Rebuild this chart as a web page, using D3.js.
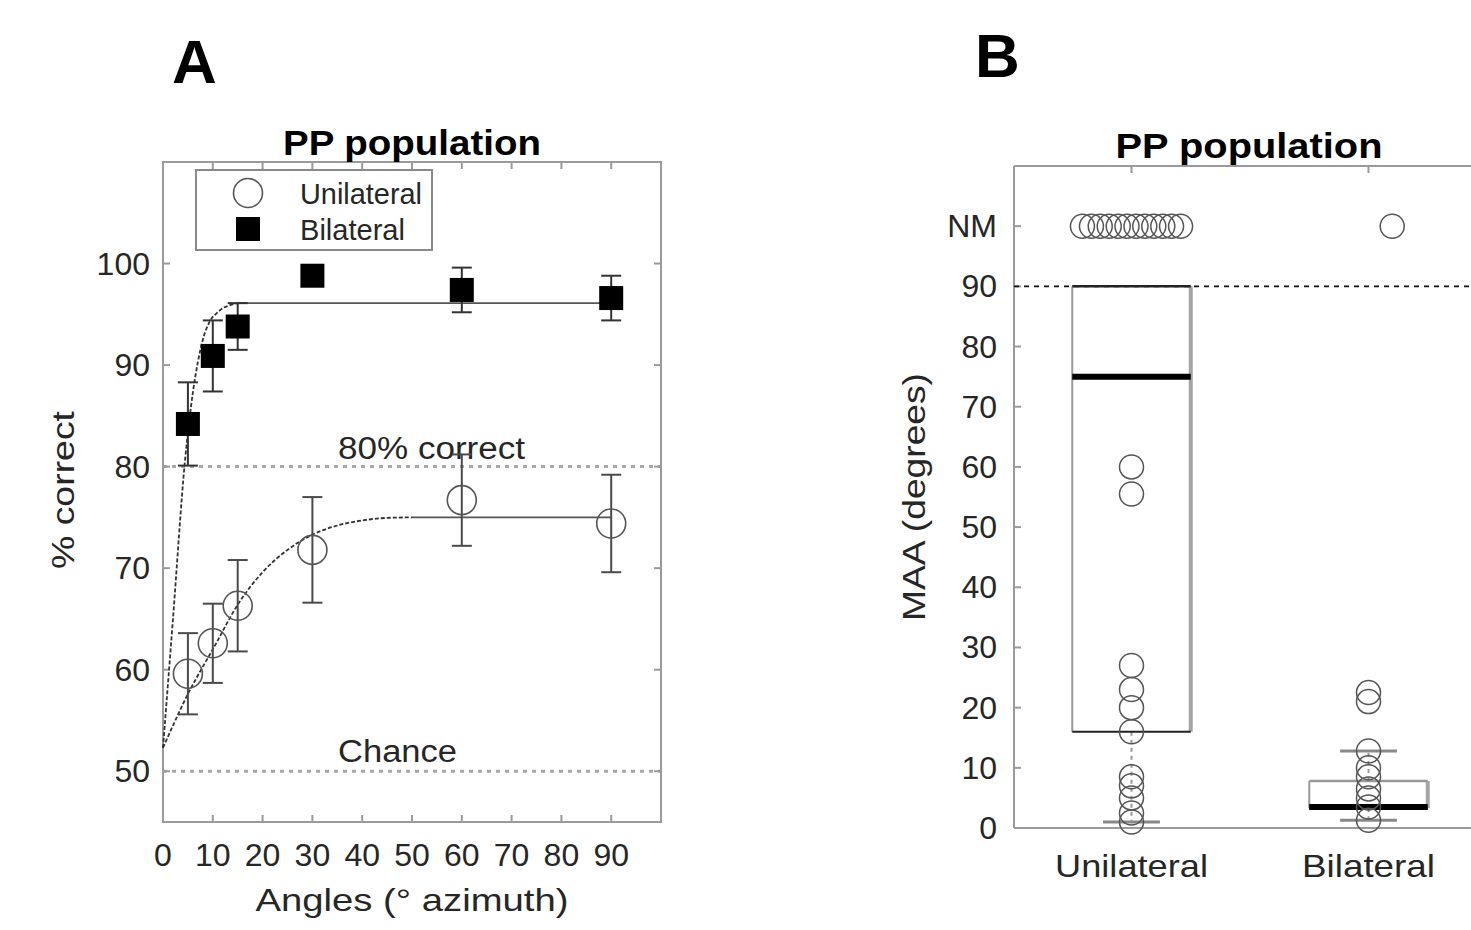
<!DOCTYPE html>
<html>
<head>
<meta charset="utf-8">
<script src="https://cdn.jsdelivr.net/npm/d3@7"></script>
<style>
  body { margin: 0; background: #fff; }
  text { font-family: "Liberation Sans", Arial, sans-serif; fill: #262626; }
</style>
</head>
<body>
<div id="fig"></div>
<script>
'use strict';

// ---- panel A data ----
var angles   = [5, 10, 15, 30, 60, 90];
var uniMean  = [59.6, 62.6, 66.3, 71.8, 76.7, 74.4];
var uniErr   = [4.0, 3.9, 4.5, 5.2, 4.5, 4.8];
var biMean   = [84.2, 90.9, 93.8, 98.8, 97.4, 96.6];
var biErr    = [4.1, 3.5, 2.3, 0, 2.2, 2.2];

// fitted curves
var uniFitX = [0, 2, 5, 8, 10, 15, 20, 25, 30, 35, 40, 45, 50, 90];
var uniFitY = [52.3, 54.5, 57.6, 60.3, 62, 66.4, 69.6, 71.8, 73.3, 74.2, 74.7, 74.95, 75, 75];
var uniFitSolidFrom = 50;
var biFitX  = [0, 2, 4.4, 6, 7, 8, 9.4, 11, 12, 13.5, 15, 90];
var biFitY  = [52.3, 65, 80.5, 87.3, 90.3, 92.5, 94.3, 95.2, 95.6, 95.9, 96.1, 96.1];
var biFitSolidFrom = 15;

var xTicksA = [0, 10, 20, 30, 40, 50, 60, 70, 80, 90];
var yTicksA = [50, 60, 70, 80, 90, 100];
var legendNames = ["Unilateral", "Bilateral"];

// ---- panel B data ----
var groups   = ["Unilateral", "Bilateral"];
var uniMAA   = [60, 55.5, 27, 23, 20, 16, 8.5, 7, 5, 2.5, 1];
var biMAA    = [22.5, 21, 12.8, 10, 8.5, 6.5, 5, 3.5, 1.3];
var NM = 100;
var uniNMjitter = [-0.207, -0.169, -0.132, -0.094, -0.056, -0.019, 0.019, 0.056, 0.094, 0.132, 0.169, 0.207];
var biNMjitter  = [0.1];
var boxStats = [
  {g: 1, lo: 1,   q1: 16,  med: 75,  q3: 90,  hi: 90},
  {g: 2, lo: 1.3, q1: 3.3, med: 3.5, q3: 7.8, hi: 12.8}
];
var yTicksB = [0, 10, 20, 30, 40, 50, 60, 70, 80, 90];

var W = 1471, H = 930;
var svg = d3.select("#fig").append("svg")
  .attr("width", W).attr("height", H)
  .style("display", "block");
svg.append("rect").attr("width", W).attr("height", H).attr("fill", "#fff");

var axisColor = "#9a9a9a";

function label(g, x, y, s, o) {
  o = o || {};
  var t = g.append("text")
    .attr("x", x).attr("y", y)
    .attr("font-size", (o.size || 32) + "px")
    .attr("font-weight", o.bold ? "bold" : "normal")
    .attr("text-anchor", o.anchor || "start")
    .text(s);
  if (o.width) t.attr("textLength", o.width).attr("lengthAdjust", "spacingAndGlyphs");
  if (o.transform) t.attr("transform", o.transform);
  if (o.fill) t.style("fill", o.fill);
  return t;
}

// ================= Panel A =================
var xA = d3.scaleLinear().domain([0, 100]).range([163, 661]);
var yA = d3.scaleLinear().domain([45, 110]).range([822, 162]);
var gA = svg.append("g");

// reference lines
[80, 50].forEach(function (v) {
  gA.append("line")
    .attr("x1", xA(0)).attr("x2", xA(100))
    .attr("y1", yA(v)).attr("y2", yA(v))
    .attr("stroke", "#a8a8a8").attr("stroke-width", 3)
    .attr("stroke-dasharray", "4,5");
});
label(gA, 338, 459, "80% correct", {size: 31, width: 187});
label(gA, 338, 762, "Chance", {size: 31, width: 119});

// frame + ticks
gA.append("rect")
  .attr("x", xA(0)).attr("y", yA(110))
  .attr("width", xA(100) - xA(0)).attr("height", yA(45) - yA(110))
  .attr("fill", "none").attr("stroke", axisColor).attr("stroke-width", 2);

xTicksA.forEach(function (t) {
  gA.append("line").attr("x1", xA(t)).attr("x2", xA(t))
    .attr("y1", yA(45)).attr("y2", yA(45) - 7)
    .attr("stroke", axisColor).attr("stroke-width", 2);
  gA.append("line").attr("x1", xA(t)).attr("x2", xA(t))
    .attr("y1", yA(110)).attr("y2", yA(110) + 7)
    .attr("stroke", axisColor).attr("stroke-width", 2);
  label(gA, xA(t), 866, String(t), {anchor: "middle", size: 32});
});
yTicksA.forEach(function (t) {
  gA.append("line").attr("x1", xA(0)).attr("x2", xA(0) + 7)
    .attr("y1", yA(t)).attr("y2", yA(t))
    .attr("stroke", axisColor).attr("stroke-width", 2);
  gA.append("line").attr("x1", xA(100)).attr("x2", xA(100) - 7)
    .attr("y1", yA(t)).attr("y2", yA(t))
    .attr("stroke", axisColor).attr("stroke-width", 2);
  label(gA, 150, yA(t) + 11, String(t), {anchor: "end", size: 32});
});

// fit curves: dashed part, then solid part
function fitCurve(xs, ys, solidFrom) {
  var pts = xs.map(function (x, i) { return [x, ys[i]]; });
  var line = d3.line().x(function (d) { return xA(d[0]); })
    .y(function (d) { return yA(d[1]); })
    .curve(d3.curveMonotoneX);
  gA.append("path").attr("d", line(pts.filter(function (d) { return d[0] <= solidFrom; })))
    .attr("fill", "none").attr("stroke", "#333").attr("stroke-width", 1.8)
    .attr("stroke-dasharray", "4,2");
  gA.append("path").attr("d", line(pts.filter(function (d) { return d[0] >= solidFrom; })))
    .attr("fill", "none").attr("stroke", "#555").attr("stroke-width", 1.6);
}
fitCurve(uniFitX, uniFitY, uniFitSolidFrom);
fitCurve(biFitX, biFitY, biFitSolidFrom);

// error bars
function errorBars(means, errs, color) {
  angles.forEach(function (a, i) {
    if (!errs[i]) return;
    var top = yA(means[i] + errs[i]), bot = yA(means[i] - errs[i]);
    gA.append("line").attr("x1", xA(a)).attr("x2", xA(a)).attr("y1", top).attr("y2", bot)
      .attr("stroke", color).attr("stroke-width", 2);
    [top, bot].forEach(function (yy) {
      gA.append("line").attr("x1", xA(a) - 10).attr("x2", xA(a) + 10).attr("y1", yy).attr("y2", yy)
        .attr("stroke", color).attr("stroke-width", 2);
    });
  });
}
errorBars(uniMean, uniErr, "#4a4a4a");
errorBars(biMean, biErr, "#333");

gA.selectAll("circle.uni").data(angles).enter().append("circle")
  .attr("class", "uni")
  .attr("cx", function (d) { return xA(d); })
  .attr("cy", function (d, i) { return yA(uniMean[i]); })
  .attr("r", 14.5)
  .attr("fill", "none").attr("stroke", "#555").attr("stroke-width", 1.6);

gA.selectAll("rect.bi").data(angles).enter().append("rect")
  .attr("class", "bi")
  .attr("x", function (d) { return xA(d) - 12; })
  .attr("y", function (d, i) { return yA(biMean[i]) - 12; })
  .attr("width", 24).attr("height", 24)
  .attr("fill", "#000");

// legend
var lg = gA.append("g");
lg.append("rect").attr("x", 196).attr("y", 170).attr("width", 236).attr("height", 80)
  .attr("fill", "#fff").attr("stroke", "#8a8a8a").attr("stroke-width", 2);
lg.append("circle").attr("cx", 248).attr("cy", 193).attr("r", 14.5)
  .attr("fill", "none").attr("stroke", "#555").attr("stroke-width", 1.6);
lg.append("rect").attr("x", 236).attr("y", 217).attr("width", 24).attr("height", 24).attr("fill", "#000");
label(lg, 300, 204, legendNames[0], {size: 29, width: 122});
label(lg, 300, 240, legendNames[1], {size: 29, width: 105});

label(gA, 412, 155, "PP population", {anchor: "middle", bold: true, size: 35, width: 258, fill: "#000"});
label(gA, 412, 911, "Angles (\u00b0 azimuth)", {anchor: "middle", size: 32, width: 313});
label(gA, 0, 0, "% correct", {anchor: "middle", size: 32, width: 158,
  transform: "translate(74,490) rotate(-90)"});
label(gA, 172, 83, "A", {bold: true, size: 62, fill: "#000"});

// ================= Panel B =================
var xB = d3.scaleLinear().domain([0.5, 2.5]).range([1013, 1487]);
var yB = d3.scaleLinear().domain([0, 110]).range([828, 166]);
var gB = svg.append("g");

// frame
gB.append("line").attr("x1", 1014).attr("x2", W).attr("y1", yB(110)).attr("y2", yB(110))
  .attr("stroke", axisColor).attr("stroke-width", 2);
gB.append("line").attr("x1", 1014).attr("x2", W).attr("y1", yB(0)).attr("y2", yB(0))
  .attr("stroke", axisColor).attr("stroke-width", 2);
gB.append("line").attr("x1", 1014).attr("x2", 1014).attr("y1", yB(110)).attr("y2", yB(0))
  .attr("stroke", axisColor).attr("stroke-width", 2);

yTicksB.concat([NM]).forEach(function (t) {
  gB.append("line").attr("x1", 1014).attr("x2", 1021).attr("y1", yB(t)).attr("y2", yB(t))
    .attr("stroke", axisColor).attr("stroke-width", 2);
  label(gB, 997, yB(t) + 11, t === NM ? "NM" : String(t), {anchor: "end", size: 32});
});
groups.forEach(function (g, i) {
  gB.append("line").attr("x1", xB(i + 1)).attr("x2", xB(i + 1))
    .attr("y1", yB(110)).attr("y2", yB(110) + 7)
    .attr("stroke", axisColor).attr("stroke-width", 2);
  label(gB, xB(i + 1), 877, g, {anchor: "middle", size: 32, width: i === 0 ? 153 : 133});
});

// 90 degree limit
gB.append("line").attr("x1", 1014).attr("x2", W).attr("y1", yB(90)).attr("y2", yB(90))
  .attr("stroke", "#111").attr("stroke-width", 1.6).attr("stroke-dasharray", "5,5");

// box plots
var bw = 0.25; // half width in group units
boxStats.forEach(function (b) {
  var cx = xB(b.g), x0 = xB(b.g - bw), x1 = xB(b.g + bw), capW = xB(b.g + 0.12) - cx;
  // whiskers
  [[b.q1, b.lo], [b.q3, b.hi]].forEach(function (w) {
    if (w[0] === w[1]) return;
    gB.append("line").attr("x1", cx).attr("x2", cx).attr("y1", yB(w[0])).attr("y2", yB(w[1]))
      .attr("stroke", "#999").attr("stroke-width", 2).attr("stroke-dasharray", "4,4");
    gB.append("line").attr("x1", cx - capW).attr("x2", cx + capW).attr("y1", yB(w[1])).attr("y2", yB(w[1]))
      .attr("stroke", "#888").attr("stroke-width", 3);
  });
  gB.append("line").attr("x1", x0).attr("x2", x0).attr("y1", yB(b.q3)).attr("y2", yB(b.q1))
    .attr("stroke", "#999").attr("stroke-width", 2);
  gB.append("line").attr("x1", x1).attr("x2", x1).attr("y1", yB(b.q3)).attr("y2", yB(b.q1))
    .attr("stroke", "#a5a5a5").attr("stroke-width", 4);
  gB.append("line").attr("x1", x0).attr("x2", x1).attr("y1", yB(b.q3)).attr("y2", yB(b.q3))
    .attr("stroke", b.g === 1 ? "#222" : "#999").attr("stroke-width", 2.5);
  gB.append("line").attr("x1", x0).attr("x2", x1).attr("y1", yB(b.q1)).attr("y2", yB(b.q1))
    .attr("stroke", "#222").attr("stroke-width", 2);
  gB.append("line").attr("x1", x0).attr("x2", x1).attr("y1", yB(b.med)).attr("y2", yB(b.med))
    .attr("stroke", "#000").attr("stroke-width", 6);
});

// individual points
var pts = [];
uniMAA.forEach(function (v) { pts.push({x: 1, y: v}); });
biMAA.forEach(function (v) { pts.push({x: 2, y: v}); });
uniNMjitter.forEach(function (j) { pts.push({x: 1 + j, y: NM}); });
biNMjitter.forEach(function (j) { pts.push({x: 2 + j, y: NM}); });

gB.selectAll("circle.pt").data(pts).enter().append("circle")
  .attr("class", "pt")
  .attr("cx", function (d) { return xB(d.x); })
  .attr("cy", function (d) { return yB(d.y); })
  .attr("r", 12)
  .attr("fill", "none").attr("stroke", "#555").attr("stroke-width", 1.5);

label(gB, 1249, 158, "PP population", {anchor: "middle", bold: true, size: 35, width: 267, fill: "#000"});
label(gB, 0, 0, "MAA (degrees)", {anchor: "middle", size: 32, width: 248,
  transform: "translate(925,497) rotate(-90)"});
label(gB, 975, 77, "B", {bold: true, size: 62, fill: "#000"});
</script>
</body>
</html>
